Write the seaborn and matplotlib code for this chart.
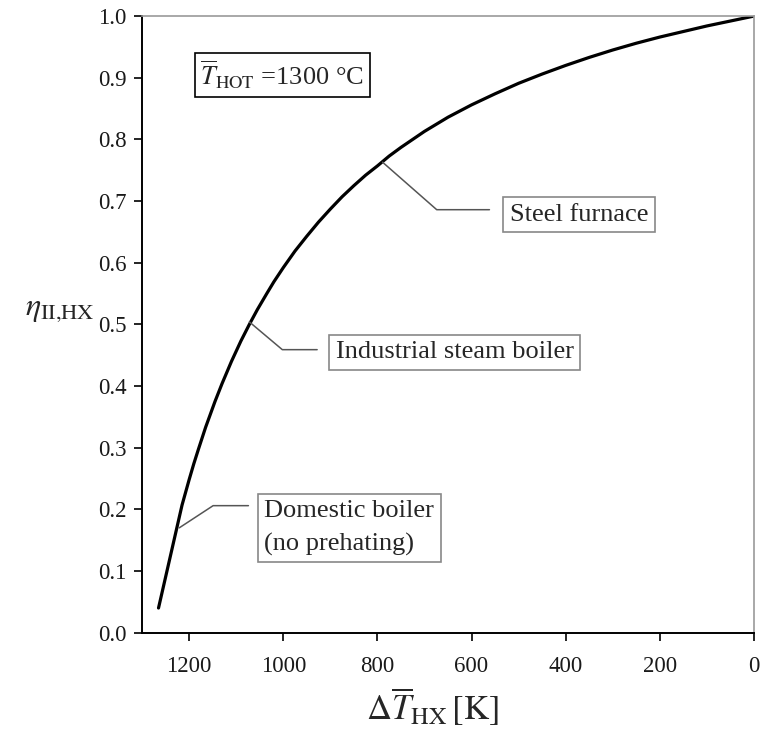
import numpy as np
import pandas as pd
import matplotlib
matplotlib.use("Agg")
import matplotlib.pyplot as plt
import seaborn as sns

# Data
delta_t = [1265, 1215, 1200, 1190, 1180, 1165, 1145, 1130, 1110, 1090, 1072,
           1055, 1035, 1020, 1000, 975, 950, 925, 900, 875, 850, 825, 800, 775,
           750, 725, 700, 650, 600, 550, 500, 450, 400, 350, 300, 250, 200,
           150, 100, 50, 0]
eta = [0.040, 0.207, 0.248, 0.274, 0.298, 0.333, 0.375, 0.404, 0.440, 0.473,
       0.500, 0.524, 0.550, 0.569, 0.592, 0.619, 0.643, 0.666, 0.687, 0.707,
       0.725, 0.742, 0.757, 0.773, 0.787, 0.800, 0.813, 0.836, 0.856, 0.874,
       0.891, 0.906, 0.920, 0.933, 0.945, 0.956, 0.966, 0.975, 0.984, 0.992,
       1.000]

x_ticks = [1200, 1000, 800, 600, 400, 200, 0]
y_ticks = [0.0, 0.1, 0.2, 0.3, 0.4, 0.5, 0.6, 0.7, 0.8, 0.9, 1.0]

# annotations: (label, point on curve, elbow, end of leader, text anchor)
ann_labels = ["Steel furnace", "Industrial steam boiler", "Domestic boiler\n(no prehating)"]
ann_points = [(789, 0.763), (1072, 0.504), (1221, 0.170)]
ann_elbows = [(674, 0.686), (1002, 0.459), (1149, 0.206)]
ann_ends = [(562, 0.686), (928, 0.459), (1074, 0.206)]
ann_text = [(519, 0.678), (889, 0.455), (1040, 0.170)]
ann_spacing = [1.35, 1.35, 1.6]

df = pd.DataFrame({"dT": delta_t, "eta": eta})

sns.set_theme(style="ticks")
plt.rcParams["font.family"] = ["Liberation Serif", "DejaVu Serif"]
plt.rcParams["mathtext.fontset"] = "stix"

fig = plt.figure(figsize=(7.62, 7.31), dpi=100)
ax = fig.add_axes([0.1864, 0.1345, 0.8031, 0.8435])

sns.lineplot(data=df, x="dT", y="eta", ax=ax, color="black", linewidth=2.3,
             estimator=None, sort=False)

ax.set_xlim(1300, 0)
ax.set_ylim(0, 1.0)
ax.set_xticks(x_ticks)
ax.set_xticklabels([str(v) for v in x_ticks])
ax.set_yticks(y_ticks)
ax.set_yticklabels([f"{v:.1f}" for v in y_ticks])
ax.tick_params(axis="both", direction="out", length=6, width=1.2, colors="black",
               labelsize=16.5, labelcolor="#1a1a1a")
ax.tick_params(axis="x", pad=11)
ax.tick_params(axis="y", pad=5)

for s in ["left", "bottom"]:
    ax.spines[s].set_color("black")
    ax.spines[s].set_linewidth(1.4)
for s in ["top", "right"]:
    ax.spines[s].set_color("#999999")
    ax.spines[s].set_linewidth(1.2)

ax.set_xlabel(r"$\Delta\overline{T}_{\mathrm{HX}}\,[\mathrm{K}]$", fontsize=25, labelpad=6)
ax.set_ylabel(r"$\eta_{\mathrm{II{,}HX}}$", fontsize=23, rotation=0, labelpad=20)
ax.yaxis.set_label_coords(-0.135, 0.50)
ax.xaxis.set_label_coords(0.475, -0.085)

# T_hot box
ax.text(1002, 0.905, r"$\overline{T}_{\mathrm{HOT}}$ =1300 °C", fontsize=19,
        ha="center", va="center",
        bbox=dict(boxstyle="square,pad=0.22", fc="white", ec="black", lw=1.2))

for lab, p, e, en, t, ls in zip(ann_labels, ann_points, ann_elbows, ann_ends,
                                ann_text, ann_spacing):
    ax.plot([p[0], e[0], en[0]], [p[1], e[1], en[1]], color="#555555", lw=1.1)
    ax.text(t[0], t[1], lab, fontsize=19, ha="left", va="center", linespacing=ls,
            bbox=dict(boxstyle="square,pad=0.25", fc="white", ec="#888888", lw=1.2))

fig.savefig("out.png", dpi=100)
